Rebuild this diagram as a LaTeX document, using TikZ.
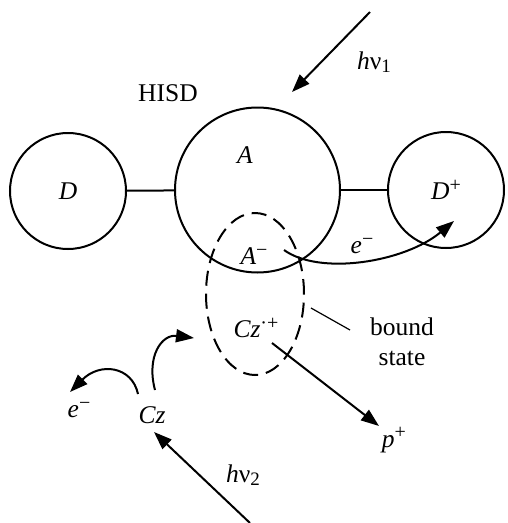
\documentclass[tikz,border=0pt]{standalone}
\usepackage{fontspec}
\setmainfont{Liberation Serif}
\usetikzlibrary{shapes.geometric,arrows.meta}
\newcommand\lowsub[1]{\raisebox{-0.3ex}{\fontsize{19}{19}\selectfont #1}}
\newcommand\hisup[1]{\raisebox{0.7ex}{\fontsize{20}{20}\selectfont #1}}
\begin{document}
\begin{tikzpicture}[x=1pt,y=-1pt,
  every node/.style={font=\fontsize{25.5}{28}\selectfont, inner sep=0pt},
  ring/.style={draw, circle, line width=2pt},
  conn/.style={line width=2pt},
  arr/.style={line width=2pt, -{Triangle[length=18pt,width=13pt]}},
  thin/.style={line width=1.2pt}]
\useasboundingbox (0,0) rectangle (507,523);
% molecules
\node[ring, minimum size=116pt] (D) at (68,191) {\textit{D}};
\node[ring, minimum size=165pt] (A) at (257.5,190) {};
\node[ring, minimum size=116pt] (Dp) at (446,190) {\textit{D}\hisup{+}};
\draw[conn] (D) -- (A);
\draw[conn] (A) -- (Dp);
\node (Alab) at (245,155) {\textit{A}};
\node (HISD) at (168,93) {HISD};
% bound state
\node[draw, ellipse, dash pattern=on 15pt off 8pt, line width=2pt,
      minimum width=98pt, minimum height=162pt] (bs) at (255,294) {};
\node (Am) at (254,256) {\textit{A}\hisup{−}};
\node (Czp) at (256,328) {\textit{Cz}\hisup{·+}};
\node[align=center, font=\fontsize{25.5}{30}\selectfont] (bstate) at (402,342) {bound\\state};
\coordinate (l1) at (311,308);
\coordinate (l2) at (350,330);
\draw[thin] (l1) -- (l2);
% hv1
\coordinate (h1s) at (370,12);
\coordinate (h1e) at (292,92);
\draw[arr] (h1s) -- (h1e);
\node (hv1) at (374,62) {\textit{h}ν\lowsub{1}};
% e- transfer
\coordinate (eA) at (284,250);
\coordinate (eD) at (454,221);
\draw[arr] (eA) .. controls (320,276) and (405,262) .. (eD);
\node (eminus) at (362,246) {\textit{e}\hisup{−}};
% proton
\node (pp) at (394,440) {\textit{p}\hisup{+}};
\coordinate (ps) at (272,343);
\coordinate (pe) at (379,426);
\draw[arr] (ps) -- (pe);
% Cz
\node (Cz) at (152,415) {\textit{Cz}};
\node (e2) at (79,410) {\textit{e}\hisup{−}};
\coordinate (c1) at (138,394);
\coordinate (c1e) at (70,392);
\draw[arr] (c1) .. controls (132,366) and (100,362) .. (c1e);
\coordinate (c2) at (155,390);
\coordinate (c2e) at (194,338);
\draw[arr] (c2) .. controls (146,356) and (162,334) .. (c2e);
% hv2
\coordinate (h2s) at (250,523);
\coordinate (h2e) at (154,432);
\draw[arr] (h2s) -- (h2e);
\node (hv2) at (243,475) {\textit{h}ν\lowsub{2}};
\end{tikzpicture}
\end{document}
